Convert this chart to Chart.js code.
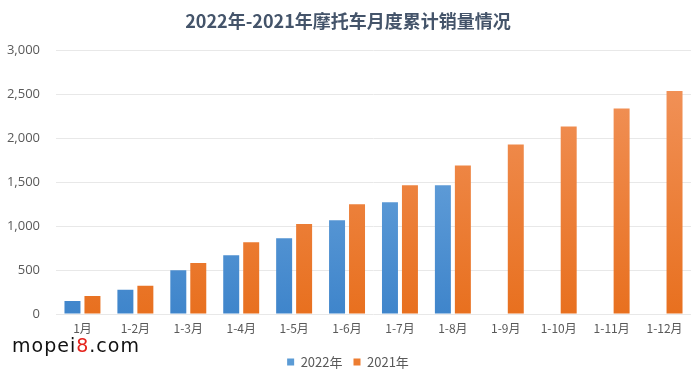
<!DOCTYPE html>
<html>
<head>
<meta charset="utf-8">
<script src="https://cdn.jsdelivr.net/npm/chart.js@4"></script>
<style>
  html, body { margin: 0; padding: 0; background: #fff; }
  #wrap { position: relative; width: 700px; height: 369px; }
  #mark {
    position: absolute; left: 12px; top: 334px;
    font-family: "DejaVu Sans", sans-serif; font-size: 19px;
    letter-spacing: 1px; color: #111;
  }
  #mark span { color: #e5231c; }
</style>
</head>
<body>
<div id="wrap">
  <canvas id="myChart" width="700" height="369"></canvas>
  <div id="mark">mopei<span>8</span>.com</div>
</div>
<script>
// categories and series
const categories = ["1月", "1-2月", "1-3月", "1-4月", "1-5月", "1-6月", "1-7月", "1-8月", "1-9月", "1-10月", "1-11月", "1-12月"];
const sales2022 = [148, 276, 498, 670, 862, 1068, 1272, 1466, null, null, null, null];
const sales2021 = [206, 322, 582, 818, 1025, 1250, 1466, 1690, 1930, 2135, 2340, 2540];
const yTicks = [0, 500, 1000, 1500, 2000, 2500, 3000];

function grad(top, bottom) {
  return function (ctx) {
    const area = ctx.chart.chartArea;
    if (!area) return bottom;
    const g = ctx.chart.ctx.createLinearGradient(0, area.top, 0, area.bottom);
    g.addColorStop(0, top);
    g.addColorStop(1, bottom);
    return g;
  };
}

const ctx = document.getElementById('myChart');
new Chart(ctx, {
  type: 'bar',
  data: {
    labels: categories,
    datasets: [{
      label: "2022年",
      data: sales2022,
      backgroundColor: grad("#7bb0e2", "#3f85cb"),
      borderWidth: 0
    }, {
      label: "2021年",
      data: sales2021,
      backgroundColor: grad("#f29660", "#e8701f"),
      borderWidth: 0
    }]
  },
  options: {
    responsive: false,
    animation: false,
    categoryPercentage: 0.755,
    barPercentage: 0.8,
    layout: { padding: { left: 5, right: 9, top: 0, bottom: 0 } },
    plugins: {
      title: {
        display: true,
        text: "2022年-2021年摩托车月度累计销量情况",
        color: "#44546a",
        font: { family: "'Noto Sans CJK SC'", size: 18, weight: "bold" },
        padding: { top: 10, bottom: 19 }
      },
      legend: {
        position: 'bottom',
        maxHeight: 24.5,
        labels: {
          boxWidth: 7,
          boxHeight: 7,
          padding: 11,
          color: "#595959",
          font: { family: "'Noto Sans CJK SC'", size: 13 },
          generateLabels: function (chart) {
            const cols = ["#5b9bd5", "#ed7d31"];
            return chart.data.datasets.map((ds, i) => ({
              text: ds.label, fillStyle: cols[i], strokeStyle: cols[i],
              lineWidth: 0, datasetIndex: i, fontColor: "#595959"
            }));
          }
        }
      },
      tooltip: { enabled: false }
    },
    scales: {
      x: {
        afterFit: function (axis) { axis.height = 30.5; },
        grid: { display: false, drawTicks: false },
        border: { display: false },
        ticks: { color: "#595959", font: { family: "'Noto Sans CJK SC'", size: 12 }, padding: 7, maxRotation: 0 }
      },
      y: {
        min: 0,
        max: 3000,
        afterBuildTicks: function (axis) { axis.ticks = yTicks.map(v => ({ value: v })); },
        afterFit: function (axis) { axis.width = 51; },
        grid: { color: "#e8e8e8", drawTicks: false },
        border: { display: false },
        ticks: {
          color: "#595959",
          font: { family: "'Open Sans'", size: 13 },
          padding: 16,
          callback: v => v.toLocaleString('en-US')
        }
      }
    }
  }
});
</script>
</body>
</html>
